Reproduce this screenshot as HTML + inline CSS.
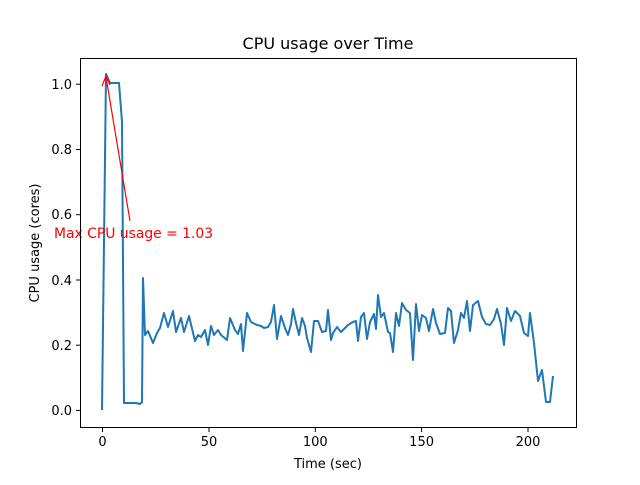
<!DOCTYPE html><html><head><style>body{margin:0;background:#fff}svg{font-family:"DejaVu Sans","Liberation Sans",sans-serif}</style></head><body>
<svg width="640" height="480" viewBox="0 0 640 480">
<text x="328" y="49" font-size="16" text-anchor="middle">CPU usage over Time</text>
<polyline fill="none" stroke="#1f77b4" stroke-width="2" stroke-linejoin="round" points="102,410 106,74 110,83 117,83 119,83 122,122 124,403 130,403 136,403 140,404 142,402 143,278 145,335 148,331 153,343 157,333 160,328 164,313 168,327 173,311 176,332 181,318 184,332 189,316 195,341 198,335 201,337 205,330 208,345 211,326 214,335 218,330 221,335 227,340 230,318 235,330 238,334 241,324 243,351 247,313 251,322 257,325 261,326 264,328 268,327 271,322 274,305 277,339 281,316 285,328 288,335 291,324 293,309 296,323 299,335 302,318 305,326 307,338 311,352 314,321 318,321 322,332 326,331 328,310 331,340 333,333 337,327 341,332 345,328 348,325 353,322 356,321 358,341 361,317 364,313 367,339 370,322 374,314 376,329 378,295 381,317 384,313 388,332 390,333 393,352 396,313 399,326 402,303 406,310 410,313 413,360 416,304 419,331 422,315 426,318 429,331 433,309 436,323 440,334 445,333 448,308 451,311 454,343 458,330 461,313 464,318 467,301 470,331 473,305 478,301 482,317 486,324 490,325 494,319 497,309 501,324 504,345 507,308 511,321 515,311 520,316 524,333 528,336 530,313 534,343 538,381 542,370 546,402 550,402 553,376"/>
<line x1="130" y1="221" x2="106" y2="77" stroke="red" stroke-width="1.2"/>
<polyline points="102,86 106,76 110,85" fill="none" stroke="red" stroke-width="1.2"/>
<text x="54" y="238" font-size="13.9" fill="red">Max CPU usage = 1.03</text>
<rect x="80.5" y="58.5" width="496" height="369" fill="none" stroke="#000" stroke-width="1"/>
<g stroke="#000" stroke-width="1">
<line x1="102.5" y1="428" x2="102.5" y2="432"/><line x1="209" y1="428" x2="209" y2="432"/><line x1="315.3" y1="428" x2="315.3" y2="432"/><line x1="421.6" y1="428" x2="421.6" y2="432"/><line x1="528" y1="428" x2="528" y2="432"/>
<line x1="76" y1="410.4" x2="80" y2="410.4"/><line x1="76" y1="345.2" x2="80" y2="345.2"/><line x1="76" y1="280" x2="80" y2="280"/><line x1="76" y1="214.7" x2="80" y2="214.7"/><line x1="76" y1="149.5" x2="80" y2="149.5"/><line x1="76" y1="84.2" x2="80" y2="84.2"/>
</g>
<g font-size="13" text-anchor="middle">
<text x="102.5" y="446">0</text><text x="209" y="446">50</text><text x="315.3" y="446">100</text><text x="421.6" y="446">150</text><text x="528" y="446">200</text>
</g>
<g font-size="13" text-anchor="end">
<text x="72" y="415">0.0</text><text x="72" y="350">0.2</text><text x="72" y="285">0.4</text><text x="72" y="219">0.6</text><text x="72" y="154">0.8</text><text x="72" y="89">1.0</text>
</g>
<text x="328" y="468" font-size="13" text-anchor="middle">Time (sec)</text>
<text transform="translate(39,243) rotate(-90)" font-size="13" text-anchor="middle">CPU usage (cores)</text>
</svg></body></html>
